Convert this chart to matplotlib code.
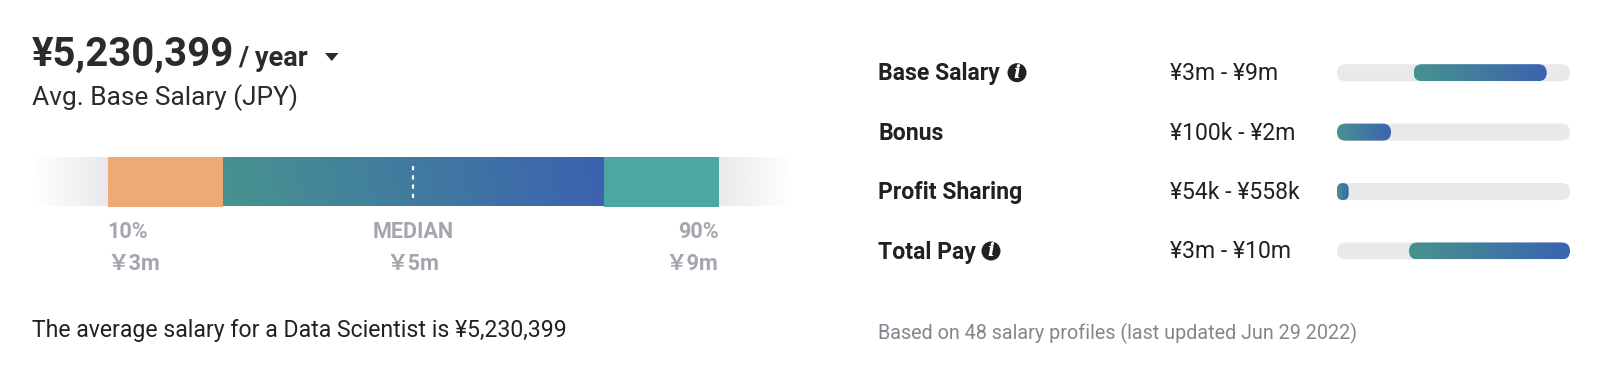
import matplotlib
matplotlib.use("Agg")
import matplotlib.pyplot as plt
import numpy as np
from matplotlib.colors import LinearSegmentedColormap
from matplotlib.patches import Circle, FancyBboxPatch, Polygon

plt.rcParams['font.family'] = ['Roboto', 'Noto Sans CJK JP', 'DejaVu Sans']

W, H = 1600, 377

salary = "¥5,230,399"
period = "/ year"
subtitle = "Avg. Base Salary (JPY)"
summary = "The average salary for a Data Scientist is ¥5,230,399"
footnote = "Based on 48 salary profiles (last updated Jun 29 2022)"

# main bar, in percent of the 10%-90% span
segment_edges = [0, 18.8, 81.2, 100]
median_pos = 50
fade_low = -11.9
fade_high = 111.6
pct_labels = ["10%", "MEDIAN", "90%"]
pct_values = ["￥3m", "￥5m", "￥9m"]

# small range bars, percent of track
rows = ["Base Salary", "Bonus", "Profit Sharing", "Total Pay"]
ranges = ["¥3m - ¥9m", "¥100k - ¥2m", "¥54k - ¥558k", "¥3m - ¥10m"]
low = [32.9, 0, 0, 30.9]
high = [90.0, 23.2, 5.0, 100]
has_info = [True, False, False, True]

cmap = LinearSegmentedColormap.from_list("teal_blue", ["#47938f", "#3b62b0"])
fade = LinearSegmentedColormap.from_list("fade", ["#ffffff", "#e9e9ec"])


def gradient(ax, x0, x1, y0, y1, cm, clip=None):
    xx, yy = np.meshgrid(np.linspace(0, 1, 200), np.linspace(0, 1, 20))
    im = ax.imshow(xx + 0.03 * yy, extent=(x0, x1, y0, y1), cmap=cm, vmin=0, vmax=1.03,
                   aspect="auto", origin="lower", zorder=2)
    if clip is not None:
        im.set_clip_path(clip)


def px_axes(x0, x1, y0, y1):
    # y0, y1 are measured from the top of the picture
    return fig.add_axes([x0 / W, 1 - y1 / H, (x1 - x0) / W, (y1 - y0) / H])


fig = plt.figure(figsize=(W / 100, H / 100), dpi=100, facecolor="white")

# main bar
ax = px_axes(35, 790, 157, 206.5)
gradient(ax, fade_low, segment_edges[0], 0, 1, fade)
gradient(ax, fade_high, segment_edges[-1], 0, 1, fade)
ax.barh(0.5, segment_edges[1] - segment_edges[0], left=segment_edges[0], height=1, color="#ecaa76", zorder=3)
gradient(ax, segment_edges[1], segment_edges[2], 0, 1, cmap)
ax.barh(0.5, segment_edges[3] - segment_edges[2], left=segment_edges[2], height=1, color="#4ca6a2", zorder=3)
ax.plot([median_pos, median_pos], [0.17, 0.84], color="white", lw=1.6, ls=(0, (1.9, 2.25)), zorder=4)
ax.set_xlim(fade_low, fade_high)
ax.set_ylim(0, 1)
ax.axis("off")

# range bars, one row = 59.4 px
row_h = 59.4
ax2 = px_axes(1337, 1570, 72.7 - row_h / 2, 251 + row_h / 2)
ax2.set_xlim(0, 100)
ax2.set_ylim(len(rows) - 0.5, -0.5)
ax2.axis("off")
bar_h = 17 / row_h
asp = (1 / row_h) / (100 / 233)
rnd = 8.5 * 100 / 233
for i in range(len(rows)):
    track = FancyBboxPatch((0, i - bar_h / 2), 100, bar_h, boxstyle=f"round,pad=0,rounding_size={rnd}",
                           mutation_aspect=asp, fc="#e9e9ec", ec="none", zorder=1)
    ax2.add_patch(track)
    w = high[i] - low[i]
    fill = FancyBboxPatch((low[i], i - bar_h / 2), w, bar_h,
                          boxstyle=f"round,pad=0,rounding_size={min(rnd, w / 2)}",
                          mutation_aspect=asp, fc="none", ec="none", zorder=2)
    ax2.add_patch(fill)
    gradient(ax2, low[i], high[i], i + bar_h / 2, i - bar_h / 2, cmap, clip=fill)
ax2.set_xlim(0, 100)
ax2.set_ylim(len(rows) - 0.5, -0.5)

# all text on a pixel overlay
top = fig.add_axes([0, 0, 1, 1], zorder=5)
top.set_xlim(0, W)
top.set_ylim(H, 0)
top.axis("off")
top.patch.set_alpha(0)


def txt(x, y, s, size, color="#212121", weight="normal", ha="left"):
    return top.text(x, y, s, fontsize=size, color=color, fontweight=weight, ha=ha, va="baseline")


txt(32, 66, salary, 28.9, "#2b2b2b", "bold")
txt(238, 66, period, 19.5, "#2b2b2b", "bold")
top.add_patch(Polygon([(325, 53), (338.5, 53), (331.7, 61)], fc="#2b2b2b", ec="none"))
txt(32, 105, subtitle, 18.9, "#2b2b2b")
txt(32, 337.5, summary, 16.6, "#212121")

label_x = [107.5, 413.5, 718.5]
label_ha = ["left", "center", "right"]
for x, ha, a, b in zip(label_x, label_ha, pct_labels, pct_values):
    txt(x, 238, a, 15.6, "#a5a5ae", "bold", ha)
    txt(x, 270, b, 15.6, "#a5a5ae", "bold", ha)

row_y = [72.7, 132, 191.5, 251]
icon_x = [1017, None, None, 991]
for i in range(len(rows)):
    txt(878, row_y[i] + 7.5, rows[i], 16.6, "#212121", "bold")
    txt(1170, row_y[i] + 7.5, ranges[i], 16.6, "#212121")
    if has_info[i]:
        top.add_patch(Circle((icon_x[i], row_y[i]), 9.5, fc="#212121", ec="none"))
        top.text(icon_x[i], row_y[i] + 5.5, "i", fontsize=13, color="white", fontweight="bold",
                 fontstyle="italic", ha="center", va="baseline", family="DejaVu Serif")
txt(878, 339, footnote, 14.2, "#85858f")

fig.savefig("out.png", dpi=100, facecolor="white")
